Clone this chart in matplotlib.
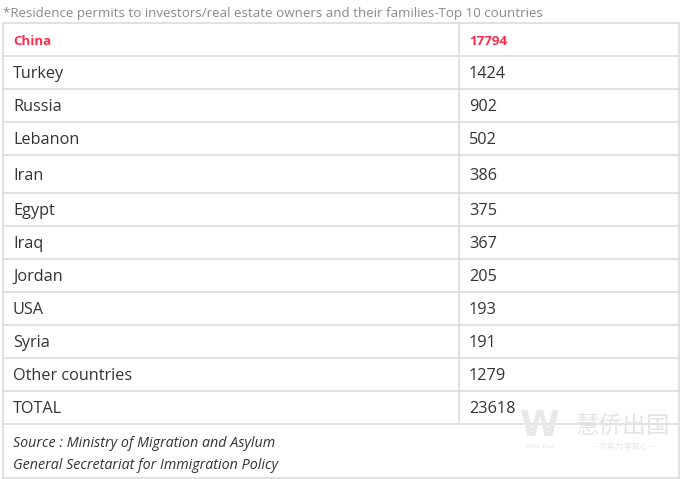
import matplotlib
matplotlib.use("Agg")
import matplotlib.pyplot as plt

title = "*Residence permits to investors/real estate owners and their families-Top 10 countries"
countries = ["China", "Turkey", "Russia", "Lebanon", "Iran", "Egypt", "Iraq",
             "Jordan", "USA", "Syria", "Other countries", "TOTAL"]
values = [17794, 1424, 902, 502, 386, 375, 367, 205, 193, 191, 1279, 23618]
source_lines = ["Source : Ministry of Migration and Asylum",
                "General Secretariat for Immigration Policy"]

W, H = 681, 479
row_heights = [33, 33, 33, 33, 38, 33, 33, 33, 33, 33, 33, 33]
top = 22.5
left, right, divider = 2.5, 678.5, 458.5
source_h = 54

fig = plt.figure(figsize=(W / 100, H / 100), dpi=100)
ax = fig.add_axes([0, 0, 1, 1])
ax.set_xlim(0, W)
ax.set_ylim(H, 0)
ax.axis("off")

line_c = "#dcdcdc"
ax.text(3, 13, title, fontsize=9.6, color="#8a8a8a", va="center", ha="left",
        family=["Open Sans", "DejaVu Sans"])

y = top
bounds = [y]
for h in row_heights:
    y += h
    bounds.append(y)
bottom = bounds[-1] + source_h

for b in bounds:
    ax.plot([left, right], [b, b], color=line_c, lw=1.2)
ax.plot([left, right], [bottom, bottom], color=line_c, lw=1.2)
ax.plot([left, left], [top, bottom], color=line_c, lw=1.2)
ax.plot([right, right], [top, bottom], color=line_c, lw=1.2)
ax.plot([divider, divider], [top, bounds[-1]], color=line_c, lw=1.2)

for i, (c, v) in enumerate(zip(countries, values)):
    yc = (bounds[i] + bounds[i + 1]) / 2
    if i == 0:
        kw = dict(fontsize=9.6, color="#ff2d4b", fontweight="bold")
        dy = 2
    else:
        kw = dict(fontsize=11.7, color="#333333")
        dy = 2
    ax.text(13, yc + dy, c, va="center", ha="left", family=["Open Sans", "DejaVu Sans"], **kw)
    ax.text(469, yc + dy, str(v), va="center", ha="left", family=["Open Sans", "DejaVu Sans"], **kw)

for j, s in enumerate(source_lines):
    ax.text(13, bounds[-1] + 20 + j * 22, s, fontsize=10.3, color="#333333",
            style="italic", va="center", ha="left", family=["Open Sans", "DejaVu Sans"])

# watermark
ax.text(540, 426, "W", fontsize=26, color="#e8e8e8", va="center", ha="center",
        fontweight="bold", family=["DejaVu Sans"])
ax.text(540, 446, "Wise Visa", fontsize=4.5, color="#e4e4e4", va="center", ha="center",
        family=["DejaVu Sans"])
ax.text(623, 426, "慧侨出国", fontsize=17, color="#e4e4e4", va="center", ha="center",
        family=["Noto Sans CJK SC", "DejaVu Sans"])
ax.text(623, 447, "— 贝实力 客服心 —", fontsize=5.5, color="#e4e4e4", va="center", ha="center",
        family=["Noto Sans CJK SC", "DejaVu Sans"])

fig.savefig("out.png", dpi=100)
